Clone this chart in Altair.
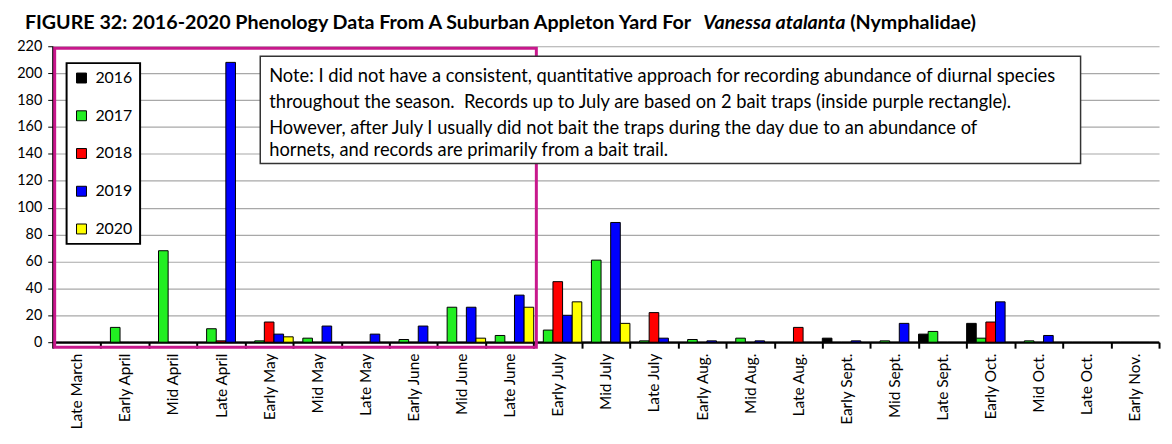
import altair as alt
import pandas as pd

categories = ["Late March", "Early April", "Mid April", "Late April", "Early May", "Mid May",
              "Late May", "Early June", "Mid June", "Late June", "Early July", "Mid July",
              "Late July", "Early Aug.", "Mid Aug.", "Late Aug.", "Early Sept.", "Mid Sept.",
              "Late Sept.", "Early Oct.", "Mid Oct.", "Late Oct.", "Early Nov."]
years = ["2016", "2017", "2018", "2019", "2020"]
colors = ["#000000", "#22ee22", "#ff0000", "#0000ff", "#ffff00"]

v2016 = [0, 0, 0, 0, 0, 0, 0, 0, 0, 0, 0, 0, 0, 0, 0, 0, 3, 0, 6, 14, 0, 0, 0]
v2017 = [0, 11, 68, 10, 1, 3, 0, 2, 26, 5, 9, 61, 1, 2, 3, 0, 0, 1, 8, 3, 1, 0, 0]
v2018 = [0, 0, 0, 1, 15, 0, 0, 0, 0, 0, 45, 0, 22, 0, 0, 11, 0, 0, 0, 15, 0, 0, 0]
v2019 = [0, 0, 0, 208, 6, 12, 6, 12, 26, 35, 20, 89, 3, 1, 1, 0, 1, 14, 0, 30, 5, 0, 0]
v2020 = [0, 0, 0, 0, 4, 0, 0, 0, 3, 26, 30, 14, 0, 0, 0, 0, 0, 0, 0, 0, 0, 0, 0]

title_parts = ["FIGURE 32: 2016-2020 Phenology Data From A Suburban Appleton Yard For",
               "Vanessa atalanta", "(Nymphalidae)"]
note_lines = [
    "Note: I did not have a consistent, quantitative approach for recording abundance of diurnal species",
    "throughout the season.\u00a0 Records up to July are based on 2 bait traps (inside purple rectangle).",
    "However, after July I usually did not bait the traps during the day due to an abundance of",
    "hornets, and records are primarily from a bait trail.",
]

series = [v2016, v2017, v2018, v2019, v2020]
rows = []
for yr, vals in zip(years, series):
    for c, v in zip(categories, vals):
        rows.append({"period": c, "year": yr, "count": v})
df = pd.DataFrame(rows)

FONT = "Lato"

bars = alt.Chart(df).mark_bar(stroke="black", strokeWidth=1).encode(
    x=alt.X("period:N", sort=categories,
            scale=alt.Scale(paddingInner=0, paddingOuter=0),
            axis=alt.Axis(title=None, labelAngle=-90, tickBand="extent", labelFontSize=15.5,
                          labelFont=FONT, labelColor="black", domainColor="black",
                          domainWidth=2, tickColor="black", tickWidth=2, tickSize=6,
                          labelPadding=5)),
    xOffset=alt.XOffset("year:N", sort=years, scale=alt.Scale(paddingInner=0, paddingOuter=0)),
    y=alt.Y("count:Q", scale=alt.Scale(domain=[0, 220], nice=False),
            axis=alt.Axis(title=None, values=list(range(0, 221, 20)), grid=True,
                          gridColor="#a8a8a8", gridWidth=1.2, labelFontSize=14.5, labelFont=FONT,
                          labelColor="black", domainColor="black", domainWidth=2,
                          tickColor="black", tickSize=5, labelPadding=6)),
    color=alt.Color("year:N", sort=years,
                    scale=alt.Scale(domain=years, range=colors),
                    legend=alt.Legend(title=None, orient="none", legendX=14, legendY=17,
                                      strokeColor="black", padding=7, rowPadding=22,
                                      labelFontSize=16, labelFont=FONT, labelColor="black",
                                      labelOffset=6,
                                      symbolType="square", symbolSize=100,
                                      symbolStrokeColor="black", symbolStrokeWidth=1,
                                      fillColor="white")),
)

one = pd.DataFrame({"k": [0]})

purple = alt.Chart(one).mark_rect(fill=None, stroke="#c8188c", strokeWidth=3).encode(
    x=alt.value(2), x2=alt.value(487), y=alt.value(2), y2=alt.value(303))

note_box = alt.Chart(one).mark_rect(fill="white", stroke="#333333", strokeWidth=1.5).encode(
    x=alt.value(209), x2=alt.value(1035), y=alt.value(10), y2=alt.value(118))

note_y = [30, 56, 82, 105]
note_layers = []
for line, yy in zip(note_lines, note_y):
    note_layers.append(
        alt.Chart(pd.DataFrame({"t": [line]})).mark_text(
            align="left", baseline="middle", fontSize=18.4, font=FONT, color="black"
        ).encode(x=alt.value(218), y=alt.value(yy), text="t:N")
    )

title_x = [-28, 655, 803]
title_style = ["normal", "italic", "normal"]
title_layers = []
for part, xx, st in zip(title_parts, title_x, title_style):
    title_layers.append(
        alt.Chart(pd.DataFrame({"t": [part]})).mark_text(
            align="left", baseline="middle", fontSize=19.8, font=FONT, fontWeight="bold",
            fontStyle=st, color="black"
        ).encode(x=alt.value(xx), y=alt.value(-23), text="t:N")
    )

chart = alt.layer(bars, purple, note_box, *note_layers, *title_layers).properties(
    width=1114, height=298,
    autosize=alt.AutoSizeParams(type="none"),
    padding={"left": 45, "top": 37, "right": 5, "bottom": 101},
    background="white",
).configure_view(stroke=None).configure_legend(strokeWidth=2)

chart.save("out.html", embed_options={"renderer": "svg", "actions": False})
